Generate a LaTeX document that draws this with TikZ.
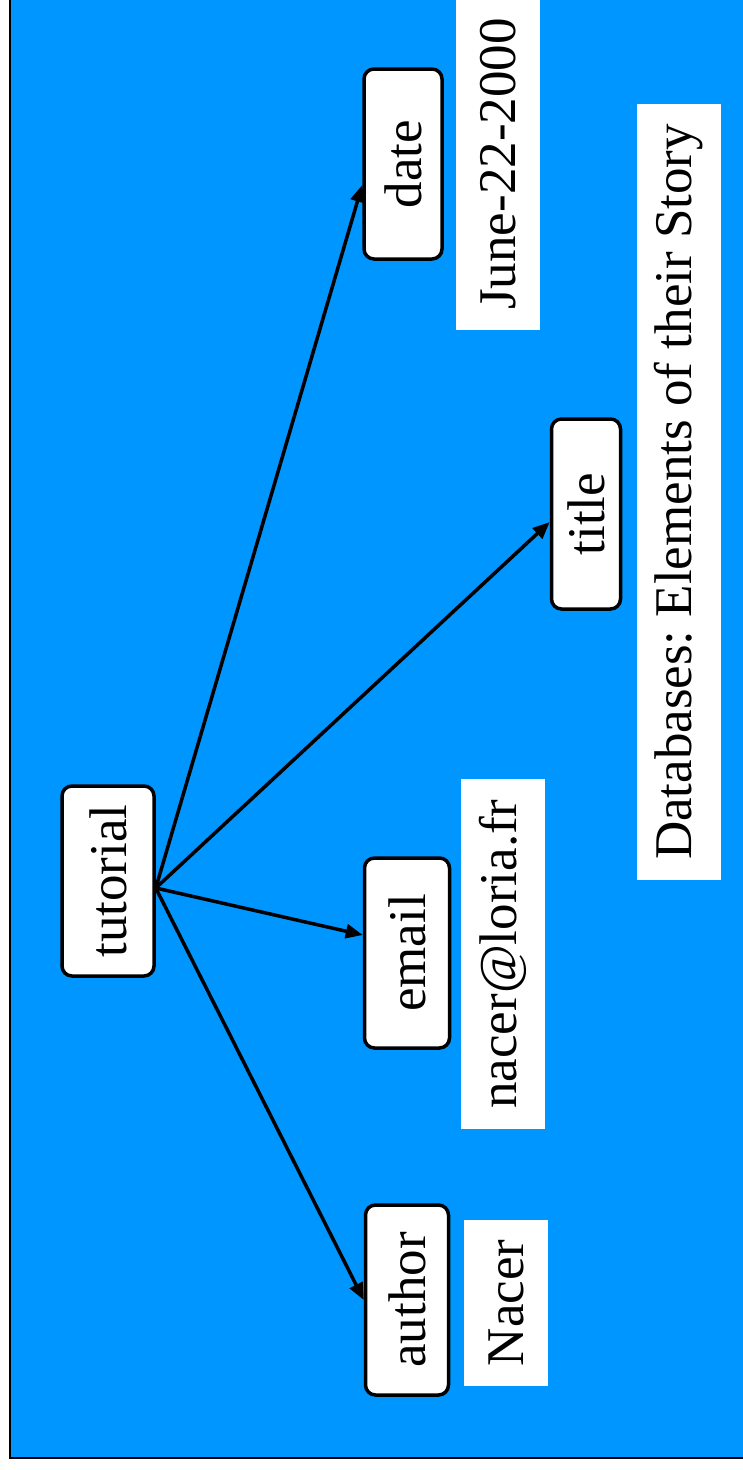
\documentclass[tikz,border=0pt]{standalone}
\usepackage{fontspec}
\setmainfont{Liberation Serif}
\newfontfamily\timesfont{Liberation Serif}
\usepackage{xcolor}
\usetikzlibrary{arrows.meta}
\definecolor{skyblue}{RGB}{0,150,255}
\frenchspacing
\tikzset{
  elem/.style={
    draw,
    rotate=90,
    rounded corners=10pt,
    line width=3.5pt,
    fill=white,
    minimum width=190pt,
    font=\timesfont\fontsize{53}{60}\selectfont
  },
  value/.style={
    rotate=90,
    fill=white,
    inner xsep=20pt,
    minimum height=84pt,
    font=\timesfont\fontsize{53}{60}\selectfont
  },
  every edge/.style={draw, -{Triangle[length=17pt,width=14pt]}, line width=3.5pt}
}

\begin{document}
\begin{tikzpicture}[x=1pt,y=1pt]
  \clip (0,0) rectangle (743,-1470);
  \draw[line width=2.5pt, fill=skyblue] (10,-1458) rectangle (760,10);

  \node[elem, minimum height=92pt] (tutorial) at (108,-881) {tutorial};
  \node[elem, minimum height=83pt] (author) at (407,-1300) {author};
  \node[elem, minimum height=85pt] (email) at (407,-953) {email};
  \node[elem, minimum height=69pt] (title) at (586,-514) {title};
  \node[elem, minimum height=78pt] (date) at (403,-164) {date};

  \node[value] (name) at (506,-1303) {Nacer};
  \node[value] (mail) at (503,-954) {nacer@loria.fr};
  \node[value] (day) at (498,-164) {June-22-2000};
  \node[value] (story) at (679,-492) {Databases: Elements of their Story};

  \coordinate (hub) at ([yshift=-7pt]tutorial.south);
  \path (hub) edge (author.north)
              edge ([yshift=18pt]email.north)
              edge ([yshift=-8pt]title.north)
              edge ([yshift=-21pt]date.north);
\end{tikzpicture}
\end{document}
